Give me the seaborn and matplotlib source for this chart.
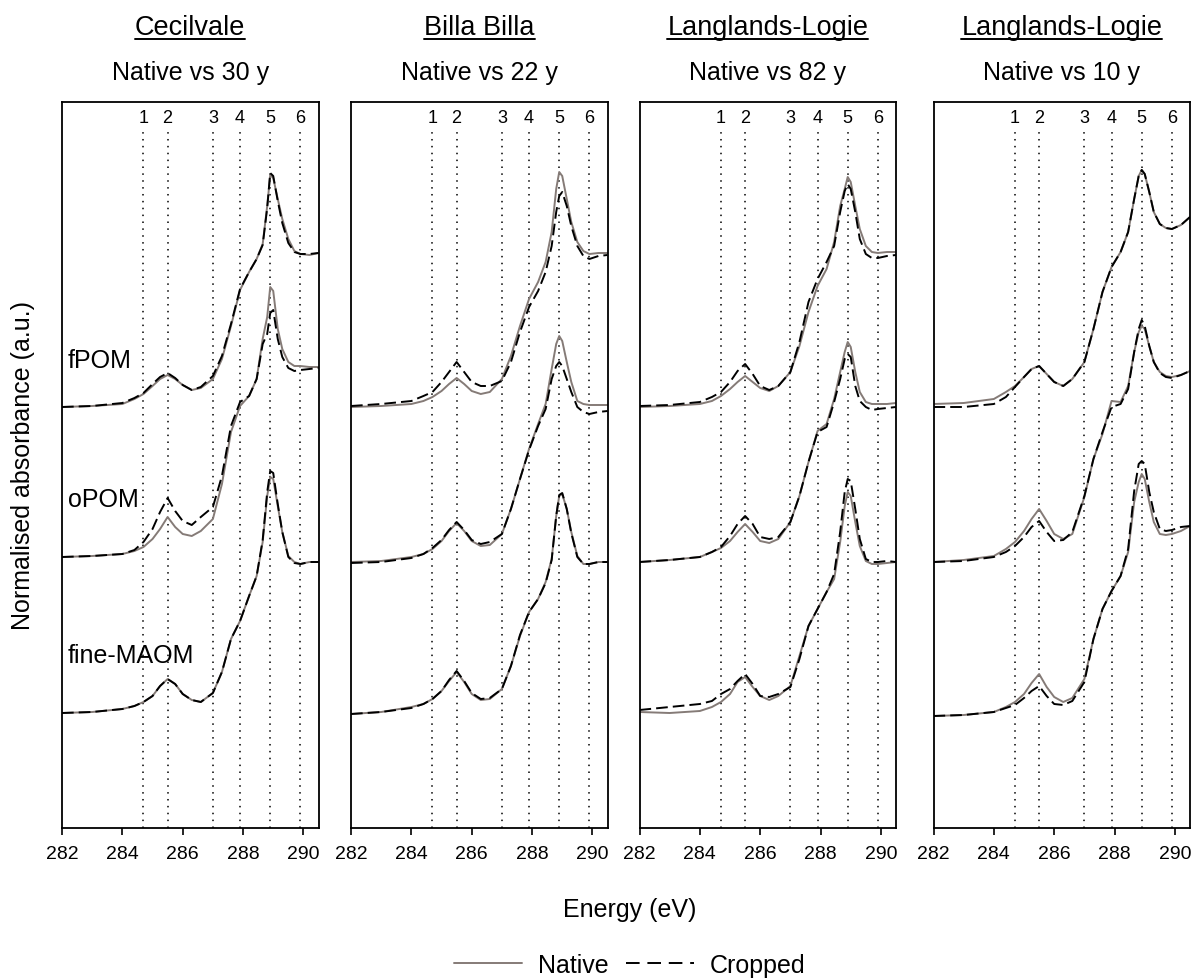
import matplotlib
matplotlib.use("Agg")
import matplotlib.pyplot as plt
from matplotlib.lines import Line2D
import pandas as pd
import seaborn as sns

# ---------------------------------------------------------------- data
ENERGY = [282.0, 283.0, 284.0, 284.4, 284.7, 285.0, 285.25, 285.5, 285.75, 286.0,
          286.3, 286.6, 287.0, 287.3, 287.6, 287.9, 288.2, 288.45, 288.65, 288.8,
          288.9, 289.0, 289.15, 289.3, 289.5, 289.7, 289.9, 290.2, 290.5]

SITES = ["Cecilvale", "Billa Billa", "Langlands-Logie", "Langlands-Logie"]
COMPARISONS = ["Native vs 30 y", "Native vs 22 y", "Native vs 82 y", "Native vs 10 y"]
FRACTIONS = ["fPOM", "oPOM", "fine-MAOM"]
TREATMENTS = ["Native", "Cropped"]
PEAK_ENERGIES = [284.7, 285.5, 287.0, 287.9, 288.9, 289.9]
PEAK_LABELS = ["1", "2", "3", "4", "5", "6"]

# Cecilvale (stacked, offset spectra)
cecil_fpom_native = [4.21, 4.22, 4.24, 4.29, 4.34, 4.42, 4.49, 4.53, 4.49, 4.43, 4.38, 4.40, 4.49, 4.69, 5.02, 5.38, 5.56, 5.69, 5.84, 6.22, 6.53, 6.50, 6.29, 6.09, 5.89, 5.77, 5.74, 5.73, 5.75]
cecil_fpom_cropped = [4.21, 4.22, 4.25, 4.30, 4.35, 4.44, 4.51, 4.55, 4.50, 4.43, 4.38, 4.41, 4.52, 4.72, 5.04, 5.39, 5.56, 5.69, 5.83, 6.20, 6.55, 6.52, 6.27, 6.05, 5.85, 5.76, 5.74, 5.74, 5.75]
cecil_opom_native = [2.71, 2.72, 2.74, 2.77, 2.81, 2.89, 2.99, 3.11, 3.01, 2.94, 2.92, 2.97, 3.09, 3.44, 3.96, 4.22, 4.32, 4.49, 4.89, 5.11, 5.41, 5.37, 4.99, 4.79, 4.66, 4.62, 4.62, 4.61, 4.61]
cecil_opom_cropped = [2.71, 2.72, 2.74, 2.78, 2.86, 2.99, 3.16, 3.30, 3.17, 3.07, 3.03, 3.11, 3.21, 3.52, 4.02, 4.26, 4.32, 4.49, 4.84, 4.94, 5.15, 5.18, 4.89, 4.71, 4.60, 4.57, 4.58, 4.59, 4.60]
cecil_maom_native = [1.15, 1.16, 1.19, 1.22, 1.26, 1.32, 1.42, 1.49, 1.44, 1.34, 1.28, 1.26, 1.35, 1.56, 1.89, 2.07, 2.32, 2.52, 2.86, 3.32, 3.51, 3.49, 3.22, 2.96, 2.72, 2.66, 2.64, 2.66, 2.66]
cecil_maom_cropped = [1.15, 1.16, 1.19, 1.22, 1.26, 1.32, 1.42, 1.49, 1.44, 1.34, 1.28, 1.26, 1.35, 1.56, 1.89, 2.07, 2.32, 2.52, 2.88, 3.36, 3.57, 3.55, 3.24, 2.96, 2.71, 2.65, 2.64, 2.66, 2.66]

# Billa Billa
billa_fpom_native = [4.21, 4.22, 4.24, 4.27, 4.31, 4.37, 4.44, 4.50, 4.44, 4.37, 4.34, 4.36, 4.49, 4.72, 5.02, 5.29, 5.46, 5.66, 5.96, 6.39, 6.56, 6.52, 6.29, 6.06, 5.86, 5.77, 5.74, 5.75, 5.75]
billa_fpom_cropped = [4.22, 4.24, 4.27, 4.32, 4.36, 4.46, 4.56, 4.66, 4.56, 4.46, 4.42, 4.42, 4.47, 4.66, 4.96, 5.21, 5.37, 5.56, 5.82, 6.16, 6.32, 6.36, 6.22, 6.02, 5.82, 5.72, 5.69, 5.72, 5.73]
billa_opom_native = [2.66, 2.67, 2.71, 2.74, 2.79, 2.87, 2.97, 3.05, 2.97, 2.87, 2.82, 2.83, 2.94, 3.19, 3.49, 3.79, 4.04, 4.24, 4.59, 4.84, 4.92, 4.87, 4.66, 4.46, 4.27, 4.24, 4.23, 4.23, 4.23]
billa_opom_cropped = [2.65, 2.66, 2.70, 2.74, 2.80, 2.88, 2.98, 3.06, 2.98, 2.88, 2.84, 2.86, 2.94, 3.19, 3.49, 3.78, 4.02, 4.19, 4.49, 4.62, 4.66, 4.62, 4.49, 4.36, 4.21, 4.16, 4.14, 4.16, 4.17]
billa_maom_native = [1.14, 1.16, 1.21, 1.24, 1.29, 1.37, 1.47, 1.56, 1.46, 1.34, 1.28, 1.29, 1.39, 1.62, 1.92, 2.16, 2.29, 2.46, 2.69, 3.12, 3.32, 3.34, 3.19, 2.96, 2.72, 2.64, 2.64, 2.66, 2.66]
billa_maom_cropped = [1.14, 1.16, 1.20, 1.24, 1.29, 1.37, 1.48, 1.57, 1.47, 1.35, 1.29, 1.30, 1.39, 1.62, 1.93, 2.16, 2.29, 2.45, 2.68, 3.12, 3.33, 3.35, 3.19, 2.95, 2.71, 2.64, 2.64, 2.66, 2.66]

# Langlands-Logie, 82 y
ll82_fpom_native = [4.21, 4.22, 4.24, 4.27, 4.32, 4.39, 4.46, 4.52, 4.46, 4.40, 4.37, 4.42, 4.56, 4.82, 5.16, 5.42, 5.59, 5.86, 6.22, 6.39, 6.51, 6.46, 6.22, 5.99, 5.82, 5.76, 5.75, 5.76, 5.76]
ll82_fpom_cropped = [4.22, 4.23, 4.26, 4.31, 4.36, 4.46, 4.57, 4.64, 4.54, 4.42, 4.38, 4.42, 4.56, 4.86, 5.26, 5.49, 5.66, 5.82, 6.16, 6.37, 6.44, 6.39, 6.16, 5.89, 5.74, 5.70, 5.70, 5.72, 5.73]
ll82_opom_native = [2.66, 2.68, 2.71, 2.76, 2.80, 2.87, 2.96, 3.04, 2.96, 2.87, 2.85, 2.89, 3.06, 3.32, 3.66, 3.97, 4.04, 4.29, 4.56, 4.76, 4.86, 4.81, 4.56, 4.36, 4.26, 4.24, 4.24, 4.24, 4.25]
ll82_opom_cropped = [2.66, 2.68, 2.71, 2.76, 2.81, 2.92, 3.04, 3.12, 3.04, 2.91, 2.89, 2.91, 3.06, 3.32, 3.66, 3.96, 4.01, 4.26, 4.49, 4.69, 4.74, 4.71, 4.42, 4.27, 4.21, 4.18, 4.19, 4.20, 4.21]
ll82_maom_native = [1.16, 1.15, 1.17, 1.21, 1.26, 1.34, 1.46, 1.51, 1.41, 1.32, 1.28, 1.32, 1.42, 1.72, 2.02, 2.19, 2.36, 2.49, 2.86, 3.22, 3.36, 3.32, 3.06, 2.82, 2.67, 2.64, 2.64, 2.65, 2.66]
ll82_maom_cropped = [1.18, 1.21, 1.24, 1.27, 1.34, 1.39, 1.47, 1.54, 1.44, 1.32, 1.31, 1.34, 1.41, 1.69, 2.02, 2.19, 2.36, 2.54, 2.96, 3.36, 3.49, 3.47, 3.19, 2.89, 2.69, 2.66, 2.66, 2.67, 2.66]

# Langlands-Logie, 10 y
ll10_fpom_native = [4.24, 4.25, 4.29, 4.36, 4.42, 4.51, 4.59, 4.62, 4.54, 4.46, 4.42, 4.49, 4.66, 4.99, 5.36, 5.61, 5.76, 5.96, 6.29, 6.52, 6.58, 6.54, 6.36, 6.16, 6.04, 6.00, 5.99, 6.03, 6.11]
ll10_fpom_cropped = [4.21, 4.21, 4.24, 4.31, 4.41, 4.51, 4.59, 4.62, 4.54, 4.46, 4.42, 4.49, 4.66, 4.99, 5.36, 5.61, 5.76, 5.96, 6.29, 6.52, 6.58, 6.54, 6.36, 6.16, 6.04, 6.00, 5.99, 6.03, 6.11]
ll10_opom_native = [2.66, 2.68, 2.72, 2.79, 2.86, 2.97, 3.09, 3.19, 3.07, 2.94, 2.89, 2.94, 3.31, 3.69, 3.94, 4.27, 4.26, 4.42, 4.76, 4.96, 5.02, 4.99, 4.82, 4.66, 4.56, 4.52, 4.51, 4.53, 4.57]
ll10_opom_cropped = [2.66, 2.67, 2.71, 2.76, 2.82, 2.91, 3.01, 3.07, 2.96, 2.87, 2.88, 2.96, 3.32, 3.69, 3.96, 4.21, 4.24, 4.39, 4.76, 4.99, 5.08, 5.02, 4.82, 4.66, 4.55, 4.51, 4.50, 4.53, 4.57]
ll10_maom_native = [1.12, 1.13, 1.16, 1.21, 1.26, 1.34, 1.45, 1.54, 1.41, 1.31, 1.26, 1.30, 1.49, 1.89, 2.19, 2.37, 2.52, 2.76, 3.26, 3.46, 3.54, 3.49, 3.26, 3.06, 2.94, 2.93, 2.94, 2.97, 3.02]
ll10_maom_cropped = [1.12, 1.13, 1.16, 1.20, 1.23, 1.30, 1.37, 1.42, 1.32, 1.24, 1.23, 1.27, 1.46, 1.89, 2.19, 2.37, 2.52, 2.79, 3.37, 3.64, 3.67, 3.64, 3.36, 3.16, 2.99, 2.97, 2.98, 3.01, 3.02]

SPECTRA = [
    {("fPOM", "Native"): cecil_fpom_native, ("fPOM", "Cropped"): cecil_fpom_cropped,
     ("oPOM", "Native"): cecil_opom_native, ("oPOM", "Cropped"): cecil_opom_cropped,
     ("fine-MAOM", "Native"): cecil_maom_native, ("fine-MAOM", "Cropped"): cecil_maom_cropped},
    {("fPOM", "Native"): billa_fpom_native, ("fPOM", "Cropped"): billa_fpom_cropped,
     ("oPOM", "Native"): billa_opom_native, ("oPOM", "Cropped"): billa_opom_cropped,
     ("fine-MAOM", "Native"): billa_maom_native, ("fine-MAOM", "Cropped"): billa_maom_cropped},
    {("fPOM", "Native"): ll82_fpom_native, ("fPOM", "Cropped"): ll82_fpom_cropped,
     ("oPOM", "Native"): ll82_opom_native, ("oPOM", "Cropped"): ll82_opom_cropped,
     ("fine-MAOM", "Native"): ll82_maom_native, ("fine-MAOM", "Cropped"): ll82_maom_cropped},
    {("fPOM", "Native"): ll10_fpom_native, ("fPOM", "Cropped"): ll10_fpom_cropped,
     ("oPOM", "Native"): ll10_opom_native, ("oPOM", "Cropped"): ll10_opom_cropped,
     ("fine-MAOM", "Native"): ll10_maom_native, ("fine-MAOM", "Cropped"): ll10_maom_cropped},
]

# baseline height of each fraction label (in absorbance units)
LABEL_Y = {"fPOM": 4.61, "oPOM": 3.22, "fine-MAOM": 1.66}

records = []
for panel, spectra in enumerate(SPECTRA):
    for (fraction, treatment), values in spectra.items():
        for e, v in zip(ENERGY, values):
            records.append({"panel": panel, "fraction": fraction, "treatment": treatment,
                            "energy": e, "absorbance": v})
df = pd.DataFrame(records)

# ---------------------------------------------------------------- style
sns.set_theme(style="white")
plt.rcParams["font.family"] = ["Liberation Sans", "DejaVu Sans"]
plt.rcParams["text.color"] = "black"
plt.rcParams["axes.labelcolor"] = "black"

NATIVE_COLOR = "#857b77"
PALETTE = {"Native": NATIVE_COLOR, "Cropped": "black"}
DASHES = {"Native": "", "Cropped": (6, 2.6)}

W, H = 1199, 979
fig = plt.figure(figsize=(W / 100, H / 100), dpi=100)

lefts = [62, 351, 639.5, 933.5]
ax_w, ax_bottom, ax_top = 256.5, 829, 103

for i, left in enumerate(lefts):
    ax = fig.add_axes([left / W, 1 - ax_bottom / H, ax_w / W, (ax_bottom - ax_top) / H])
    sub = df[df["panel"] == i]
    sns.lineplot(data=sub, x="energy", y="absorbance", hue="treatment", style="treatment",
                 units="fraction", estimator=None, hue_order=TREATMENTS,
                 style_order=TREATMENTS, palette=PALETTE, dashes=DASHES,
                 linewidth=1.4, legend=False, ax=ax)

    ax.vlines(PEAK_ENERGIES, 0, 7.01, colors="black", linestyles=(0, (1, 3.5)),
              linewidth=1.1, zorder=0.5)
    for e, lab in zip(PEAK_ENERGIES, PEAK_LABELS):
        ax.text(e, 7.063, lab, ha="center", va="baseline", fontsize=13)

    ax.set_xlim(282, 290.5)
    ax.set_ylim(0, 7.26)
    ax.set_xticks([282, 284, 286, 288, 290])
    ax.set_yticks([])
    ax.set_xlabel("")
    ax.set_ylabel("")
    ax.tick_params(axis="x", bottom=True, direction="out", length=5, width=1.2,
                   pad=7, labelsize=14, colors="black")
    for spine in ax.spines.values():
        spine.set_visible(True)
        spine.set_color("black")
        spine.set_linewidth(1.3)

    if i == 0:
        for frac in FRACTIONS:
            ax.text(282.2, LABEL_Y[frac], frac, ha="left", va="baseline", fontsize=18)

    cx = (left + ax_w / 2) / W
    fig.text(cx, 1 - 80 / H, COMPARISONS[i], ha="center", va="baseline", fontsize=18)
    title = fig.text(cx, 1 - 35 / H, SITES[i], ha="center", va="baseline", fontsize=19.5)
    fig.canvas.draw()
    bb = title.get_window_extent(fig.canvas.get_renderer())
    uy = 1 - 39.5 / H
    fig.add_artist(Line2D([bb.x0 / W, bb.x1 / W], [uy, uy], transform=fig.transFigure,
                          color="black", linewidth=1.4))

fig.text(23 / W, 1 - 466 / H, "Normalised absorbance (a.u.)", rotation=90,
         ha="center", va="center", fontsize=18)
fig.text(630 / W, 1 - 910 / H, "Energy (eV)", ha="center", va="center", fontsize=18)

handles = [Line2D([], [], color=NATIVE_COLOR, linewidth=1.4),
           Line2D([], [], color="black", linewidth=1.4, linestyle=(0, (7, 4)))]
fig.legend(handles, TREATMENTS, loc="center", bbox_to_anchor=(630 / W, 1 - 966 / H),
           ncol=2, frameon=False, fontsize=18, handlelength=2.7, handletextpad=0.65,
           columnspacing=0.7)

fig.savefig("out.png", dpi=100)
